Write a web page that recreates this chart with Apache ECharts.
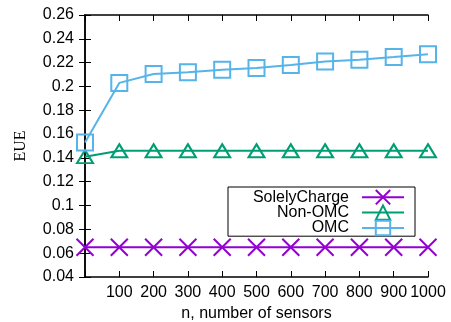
<!DOCTYPE html>
<html>
<head>
<meta charset="utf-8">
<script src="https://cdn.jsdelivr.net/npm/echarts@6/dist/echarts.min.js"></script>
<style>
  html, body { margin: 0; padding: 0; background: #fff; }
  #chart { width: 451px; height: 322px; }
</style>
</head>
<body>
<div id="chart"></div>
<script>
// n values (first point sits on the left border)
var sensors = [0, 100, 200, 300, 400, 500, 600, 700, 800, 900, 1000];
var solelyCharge = [0.065, 0.065, 0.065, 0.065, 0.065, 0.065, 0.065, 0.065, 0.065, 0.065, 0.065];
var nonOMC = [0.141, 0.146, 0.146, 0.146, 0.146, 0.146, 0.146, 0.146, 0.146, 0.146, 0.146];
var omc = [0.153, 0.203, 0.2105, 0.212, 0.214, 0.2155, 0.218, 0.221, 0.2225, 0.2247, 0.227];

var FONT = '"Liberation Sans", Arial, sans-serif';

function pairs(ys) {
  return sensors.map(function (x, i) { return [x, ys[i]]; });
}

function mkSeries(name, ys, color, symbol, size) {
  return {
    name: name,
    type: 'line',
    data: pairs(ys),
    symbol: symbol,
    symbolSize: size,
    showAllSymbol: true,
    animation: false,
    lineStyle: { color: color, width: 2 },
    itemStyle: { color: 'rgba(0,0,0,0)', borderColor: color, borderWidth: 2 },
    emphasis: { disabled: true }
  };
}

var chart = echarts.init(document.getElementById('chart'));

var option = {
  backgroundColor: '#fff',
  animation: false,
  grid: { left: 85, right: 23, top: 15, bottom: 45, outerBoundsMode: 'none', containLabel: false },
  xAxis: [{
    type: 'value',
    min: 0, max: 1000, interval: 100,
    name: 'n, number of sensors',
    nameLocation: 'middle',
    nameGap: 28,
    nameTextStyle: { fontFamily: FONT, fontSize: 16, color: '#000' },
    axisLine: { lineStyle: { color: '#000', width: 1.5 } },
    axisTick: { inside: true, length: 6, lineStyle: { color: '#000' } },
    axisLabel: {
      fontFamily: FONT, fontSize: 16, color: '#000', margin: 8,
      formatter: function (v) { return v === 0 ? '' : String(v); }
    },
    splitLine: { show: false }
  }, {
    type: 'value', position: 'top',
    min: 0, max: 1000, interval: 100,
    axisLine: { lineStyle: { color: '#000', width: 1.5 } },
    axisTick: { inside: true, length: 6, lineStyle: { color: '#000' } },
    axisLabel: { show: false },
    splitLine: { show: false }
  }],
  yAxis: [{
    type: 'value',
    min: 0.04, max: 0.26, interval: 0.02,
    name: 'EUE',
    nameLocation: 'middle',
    nameGap: 56,
    nameTextStyle: { fontFamily: '"Liberation Serif", serif', fontSize: 16, color: '#000' },
    axisLine: { lineStyle: { color: '#000', width: 1.5 } },
    axisTick: { inside: true, length: 6, lineStyle: { color: '#000' } },
    axisLabel: {
      fontFamily: FONT, fontSize: 16, color: '#000', margin: 11,
      formatter: function (v) { return String(parseFloat(v.toFixed(2))); }
    },
    splitLine: { show: false }
  }, {
    type: 'value', position: 'right',
    min: 0.04, max: 0.26, interval: 0.02,
    axisLine: { lineStyle: { color: '#000', width: 1.5 } },
    axisTick: { inside: true, length: 6, lineStyle: { color: '#000' } },
    axisLabel: { show: false },
    splitLine: { show: false }
  }],
  legend: {
    orient: 'vertical',
    left: 228, top: 187,
    align: 'right',
    itemWidth: 42,
    itemHeight: 18,
    itemGap: -1,
    padding: [2, 10, 0, 15],
    borderColor: '#000',
    borderWidth: 1,
    backgroundColor: '#fff',
    selectedMode: false,
    formatter: function (name) { return '{a|' + name + '}'; },
    textStyle: {
      rich: { a: { width: 106, padding: [0, 8, 0, 0], align: 'right', fontFamily: FONT, fontSize: 16, color: '#000', lineHeight: 16 } }
    },
    data: ['SolelyCharge', 'Non-OMC', 'OMC']
  },
  series: [
    mkSeries('SolelyCharge', solelyCharge, '#9400D3', 'path://M0,0L10,10M10,0L0,10', 17),
    mkSeries('Non-OMC', nonOMC, '#009E73', 'triangle', [16, 13]),
    mkSeries('OMC', omc, '#56B4E9', 'rect', 16)
  ]
};

chart.setOption(option);
</script>
</body>
</html>
